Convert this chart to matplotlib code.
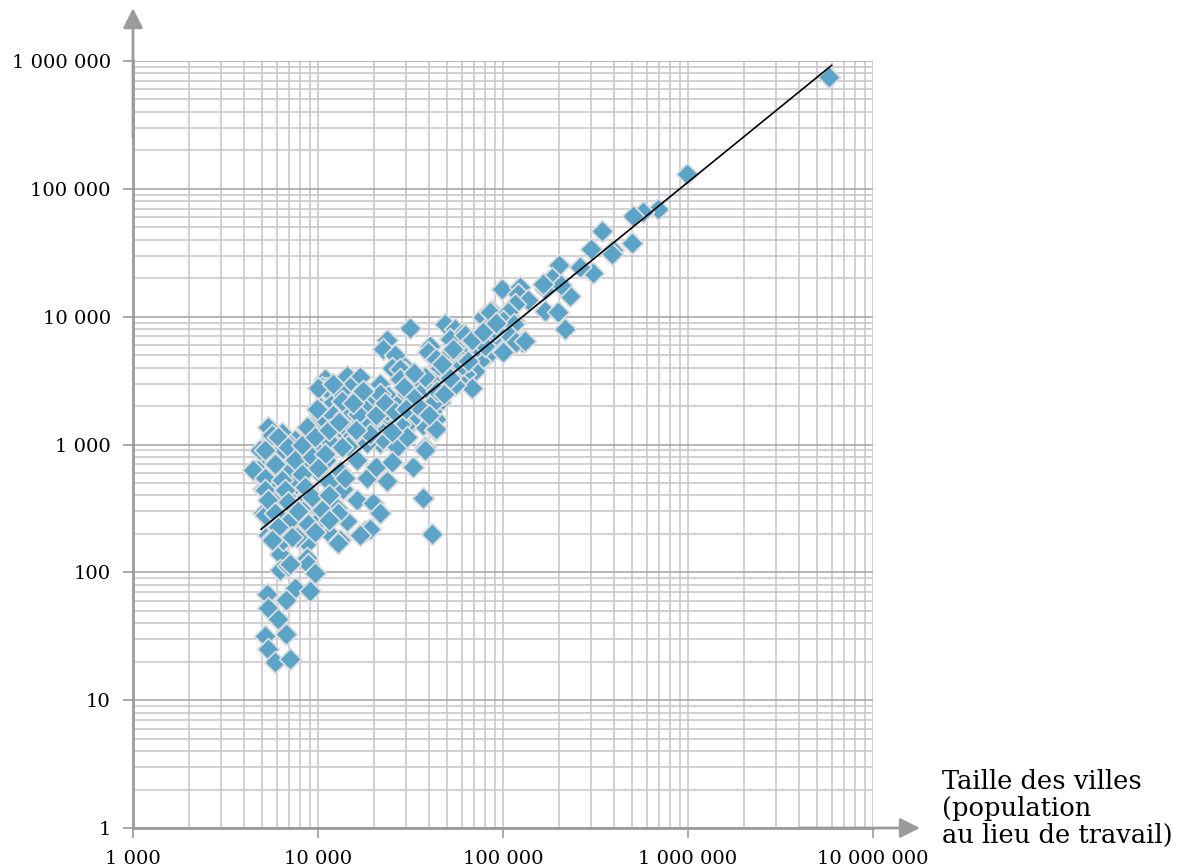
"""Log-log scatter: city size vs. employment, with fitted power-law line."""

import matplotlib.pyplot as plt
from matplotlib.ticker import FixedLocator, FuncFormatter, NullFormatter

# Population at place of work (x) and the paired y value.
pop = [
    5800000, 984000, 690000, 573000, 505000, 341000, 496000, 395000, 390000, 298000,
    308000, 261000, 201000, 183000, 169000, 230000, 205000, 98400, 124000, 121000,
    137000, 116000, 86900, 169000, 199000, 102000, 216000, 77700, 114000, 126000,
    106000, 81500, 96000, 164000,
    85000, 106000, 100000, 114000, 31400, 48600, 55000, 59800, 75000, 86900,
    109000, 118000, 132000, 51700, 64600, 40300, 39400, 50600, 43700, 83300,
    100000, 67800, 58600, 75000, 45700, 55000, 70600, 62300, 49600, 35600,
    42000, 58600, 67800, 55000, 45700, 37100, 28900, 29600, 28900, 31400,
    32700, 43700, 41200, 28900, 30100, 37100, 42800, 37800,
    23500, 22500, 26100, 25000, 27700, 21600, 27700, 14300, 16900, 10900,
    10500, 12100, 12600, 14900, 16200, 19900, 24000, 37100, 35600, 18000,
    22500, 27200, 14300, 10200, 12100, 10200, 12100, 15500, 19500, 24500,
    31400, 9060, 11600, 14000, 18300, 22500, 27700, 16900, 21600,
    11100, 10000, 13200, 21600, 23500, 30100, 9840, 14000, 16500, 5390,
    6370, 8690, 7510, 9840, 11800, 14600, 18300, 22500, 26700, 30100,
    5060, 6490, 8000, 4860, 5980, 7060, 8870, 11100, 13200, 10200,
    16200, 18300, 20700, 25000, 23500, 5060, 6100, 7510, 5730, 7060,
    8690, 11400, 13700, 16200, 19900, 21600, 5060, 6770, 8300, 10200,
    12600, 14300, 18000, 9600, 7060, 8000, 11600, 13200, 5390, 5980,
    8690, 6230, 8690,
    4860, 4760, 5170, 5170, 6230, 6900, 8870, 9600, 7510, 9060,
    5270, 5390, 6720, 6100, 5170, 6720, 5390, 5870, 7060, 37100,
    41200, 32700, 37800, 19100, 16900, 12900, 42800, 43700,
    5630, 7060, 5270, 5850, 6490, 5630, 5980, 7060, 5730, 6490,
    7670, 7060, 4470,
    6100, 5170, 6900, 8170, 9600, 11400, 13400, 5850, 7510, 9270,
    10900, 13400, 5170, 6370, 8170, 10000, 5170, 6620, 8500, 11400,
    14000, 5390, 6900, 9270, 11400, 5850, 7810, 10500, 12900, 6100,
    8870, 11400, 5630, 7230, 9600,
    12000, 13500, 15500, 17500, 20500, 23000, 26000, 29000, 33000, 34000,
    25000, 19000, 16000, 13000, 30000, 36000, 40000, 44000, 48000, 52000,
    60000, 65000, 72000, 80000, 90000, 62000, 68000, 78000, 92000, 54000,
    47000, 38000, 33000,
]
emp = [
    750000, 131000, 69500, 66000, 61500, 46400, 37400, 33200, 31000, 34000,
    21900, 24600, 25300, 20000, 16600, 14400, 17600, 16400, 17100, 15000,
    13500, 12500, 11000, 11100, 10800, 10500, 8000, 9900, 9300, 6300,
    7400, 8200, 6300, 18100,
    10800, 10800, 9300, 8700, 8100, 8770, 8000, 7300, 6700, 6700,
    7100, 6300, 6500, 6700, 6300, 5930, 5260, 4970, 4680, 4970,
    5260, 5390, 4680, 4540, 3990, 3880, 3770, 3560, 3270, 2900,
    3080, 3080, 2750, 2900, 2140, 2080, 4170, 3700, 3080, 2340,
    1840, 1580, 1840, 1740, 1370, 1410, 1290, 960,
    6600, 5600, 4970, 3990, 3880, 2960, 3270, 3430, 3370, 3270,
    2810, 2810, 2340, 2810, 2410, 2270, 2410, 2960, 2500, 1890,
    1890, 2080, 1840, 1970, 2140, 1650, 1690, 1530, 1490, 1580,
    1530, 1370, 1290, 1220, 1370, 1220, 1450, 1080, 1020,
    2750, 2750, 2570, 2500, 1840, 2500, 1890, 1690, 1740, 1370,
    1220, 1370, 1080, 1030, 1020, 980, 1030, 1110, 960, 1140,
    930, 930, 840, 670, 670, 620, 730, 750, 620, 590,
    750, 550, 670, 730, 520, 450, 460, 480, 380, 370,
    390, 410, 450, 370, 350, 290, 290, 290, 300, 300,
    320, 250, 210, 240, 230, 195, 200, 180, 195, 170,
    170, 140, 130,
    900, 630, 440, 280, 104, 113, 117, 98, 75, 72,
    68, 53, 61, 43, 32, 33, 25, 20, 21, 380,
    200, 670, 900, 220, 195, 170, 2200, 1330,
    1180, 1000, 550, 510, 440, 370, 225, 255, 190, 178,
    190, 117, 630,
    1140, 900, 960, 1000, 1140, 1290, 1450, 710, 750, 800,
    840, 960, 550, 525, 590, 650, 440, 440, 465, 510,
    550, 370, 355, 390, 400, 290, 300, 305, 290, 225,
    240, 255, 178, 190, 205,
    3000, 2200, 2100, 2600, 1700, 2100, 1800, 2800, 2300, 1700,
    1250, 1200, 1300, 1500, 1900, 1900, 1700, 2600, 2500, 3300,
    4200, 4500, 5800, 5900, 7800, 7200, 6600, 7600, 9000, 5600,
    4300, 3400, 3600,
]

# Fitted line, end points.
fit_x = [4920, 5980000]
fit_y = [217, 925000]

x_ticks = [1e3, 1e4, 1e5, 1e6, 1e7]
y_ticks = [1, 10, 100, 1e3, 1e4, 1e5, 1e6]

axis_label = "Taille des villes\n(population\nau lieu de travail)"

AXIS_GREY = "#9b9b9b"
MAJOR_GRID = "#a9a9a9"
MINOR_GRID = "#c9c9cd"
POINT_BLUE = "#5ba4c8"
POINT_EDGE = "#dcdcdc"

plt.rcParams["font.family"] = ["DejaVu Serif"]


def spaced_thousands(value, _pos):
    return f"{int(round(value)):,}".replace(",", " ")


fig = plt.figure(figsize=(11.84, 8.68), dpi=100)
ax = fig.add_axes([133 / 1184, 40 / 868, 740 / 1184, 767 / 868])

ax.set_xscale("log")
ax.set_yscale("log")
ax.set_xlim(1e3, 1e7)
ax.set_ylim(1, 1e6)

# Grid: every decade and every minor step.
minor = [k * 10.0**e for e in range(0, 7) for k in range(2, 10)]
ax.xaxis.set_major_locator(FixedLocator(x_ticks))
ax.yaxis.set_major_locator(FixedLocator(y_ticks))
ax.xaxis.set_minor_locator(FixedLocator(minor))
ax.yaxis.set_minor_locator(FixedLocator(minor))
ax.xaxis.set_major_formatter(FuncFormatter(spaced_thousands))
ax.yaxis.set_major_formatter(FuncFormatter(spaced_thousands))
ax.xaxis.set_minor_formatter(NullFormatter())
ax.yaxis.set_minor_formatter(NullFormatter())

ax.grid(True, which="minor", axis="both", color=MINOR_GRID, linewidth=1.2)
ax.grid(True, which="major", axis="x", color=MINOR_GRID, linewidth=1.2)
ax.grid(True, which="major", axis="y", color=MAJOR_GRID, linewidth=1.2)
ax.set_axisbelow(True)

ax.tick_params(which="minor", length=0)
ax.tick_params(which="major", length=7, width=1.2, color=AXIS_GREY,
               labelsize=14, labelcolor="black")
ax.tick_params(axis="x", pad=9)
ax.tick_params(axis="y", pad=9)

for side in ("top", "right"):
    ax.spines[side].set_visible(False)
for side in ("left", "bottom"):
    ax.spines[side].set_color(AXIS_GREY)
    ax.spines[side].set_linewidth(2.0)

ax.scatter(pop, emp, marker="D", s=125, color=POINT_BLUE,
           edgecolors=POINT_EDGE, linewidths=1.3, zorder=3)
ax.plot(fit_x, fit_y, color="black", linewidth=1.2, zorder=4)

# Axis arrows
arrow = dict(arrowstyle="-|>", color=AXIS_GREY, lw=2.0,
             mutation_scale=30, shrinkA=0, shrinkB=0)
ax.annotate("", xy=(0, 1.069), xytext=(0, 0.9), xycoords="axes fraction",
            arrowprops=arrow, annotation_clip=False)
ax.annotate("", xy=(1.0635, 0), xytext=(0.9, 0), xycoords="axes fraction",
            arrowprops=arrow, annotation_clip=False)

fig.text(942 / 1184, 1 - 769 / 868, axis_label, ha="left", va="top",
         fontsize=18.5, linespacing=1.1)

fig.savefig("out.png", dpi=100)
